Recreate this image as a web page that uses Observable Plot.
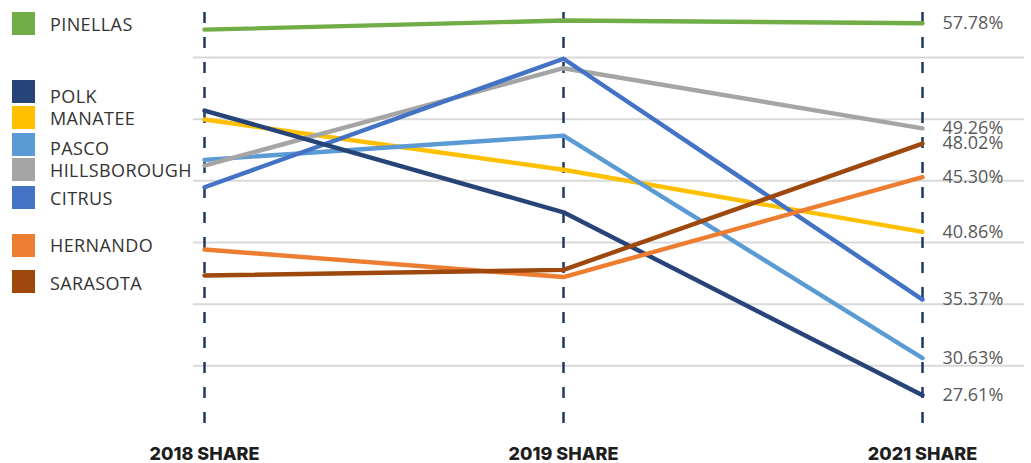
<!DOCTYPE html>
<html>
<head>
<meta charset="utf-8">
<script src="https://cdn.jsdelivr.net/npm/d3@7"></script>
<script src="https://cdn.jsdelivr.net/npm/@observablehq/plot@0.6"></script>
<style>
  html, body { margin: 0; padding: 0; background: #fff; }
  #wrap { position: relative; width: 1031px; height: 463px; overflow: hidden; }
  #legend { position: absolute; left: 0; top: 0; width: 200px; height: 463px; font-family: "Open Sans", sans-serif; }
  .item { position: absolute; left: 12px; display: flex; align-items: flex-start; }
  .sw { width: 23px; height: 23px; flex: none; }
  .lab { margin-left: 15px; font-size: 18px; letter-spacing: 0.4px; color: #333; line-height: 23px; white-space: nowrap; }
  svg { display: block; }
</style>
</head>
<body>
<div id="wrap"><div id="chart"></div><div id="legend"></div></div>
<script>
// ---- data ----
const years = ["2018 SHARE", "2019 SHARE", "2021 SHARE"];
const counties = ["PINELLAS", "POLK", "MANATEE", "PASCO", "HILLSBOROUGH", "CITRUS", "HERNANDO", "SARASOTA"];
const colors = ["#70AD47", "#264478", "#FFC000", "#5B9BD5", "#A5A5A5", "#4472C4", "#ED7D31", "#9E480E"];
const pinellas     = [57.26, 58.00, 57.78];
const polk         = [50.70, 42.45, 27.61];
const manatee      = [49.97, 45.90, 40.86];
const pasco        = [46.70, 48.67, 30.63];
const hillsborough = [46.24, 54.13, 49.26];
const citrus       = [44.48, 54.90, 35.37];
const hernando     = [39.43, 37.20, 45.30];
const sarasota     = [37.32, 37.78, 48.02];
const gridValues   = [30, 35, 40, 45, 50, 55];

const seriesByCounty = {
  PINELLAS: pinellas, POLK: polk, MANATEE: manatee, PASCO: pasco,
  HILLSBOROUGH: hillsborough, CITRUS: citrus, HERNANDO: hernando, SARASOTA: sarasota
};
// draw order (later on top)
const drawOrder = ["MANATEE", "PASCO", "HILLSBOROUGH", "CITRUS", "POLK", "HERNANDO", "SARASOTA", "PINELLAS"];
const rows = drawOrder.flatMap(c => seriesByCounty[c].map((v, i) => ({county: c, year: years[i], value: v})));
const lastRows = rows.filter(d => d.year === years[2]);

const chart = Plot.plot({
  width: 1031,
  height: 463,
  marginLeft: 193,
  marginRight: 7,
  marginTop: 12,
  marginBottom: 36,
  style: {fontFamily: "Open Sans, sans-serif", background: "transparent"},
  x: {domain: years, range: [203, 922], padding: 0, axis: null},
  y: {domain: [25, 58.65], axis: null},
  color: {domain: counties, range: colors},
  marks: [
    Plot.ruleY(gridValues, {stroke: "#D9D9D9", strokeWidth: 2}),
    Plot.ruleX(years, {x: d => d, stroke: "#1F3864", strokeWidth: 2.5, strokeDasharray: "11,14"}),
    Plot.line(rows, {x: "year", y: "value", z: "county", stroke: "county", strokeWidth: 4.4, strokeLinecap: "round", strokeLinejoin: "round"}),
    Plot.text(lastRows, {x: "year", y: "value", text: d => d.value.toFixed(2) + "%", textAnchor: "start", dx: 20, fontSize: 18, fill: "#595959", fontFamily: "Open Sans, sans-serif", letterSpacing: 0.6}),
    Plot.axisX({tickSize: 0, tickPadding: 20, fontSize: 18, fontWeight: 800, fontFamily: "Inter, sans-serif", color: "#1e1e1e", label: null})
  ]
});
document.getElementById("chart").appendChild(chart);

// legend (HTML overlay on the left)
const legendTops = [12, 80, 106, 133, 158, 186, 234, 270];
const legendTextShift = [1, 5, 1, 4, 1, 1, 0, 2];
const legend = document.getElementById("legend");
counties.forEach((c, i) => {
  const it = document.createElement("div");
  it.className = "item";
  it.style.top = legendTops[i] + "px";
  const sw = document.createElement("div");
  sw.className = "sw";
  sw.style.background = colors[i];
  const lab = document.createElement("div");
  lab.className = "lab";
  lab.style.marginTop = legendTextShift[i] + "px";
  lab.textContent = c;
  it.appendChild(sw); it.appendChild(lab);
  legend.appendChild(it);
});
</script>
</body>
</html>
